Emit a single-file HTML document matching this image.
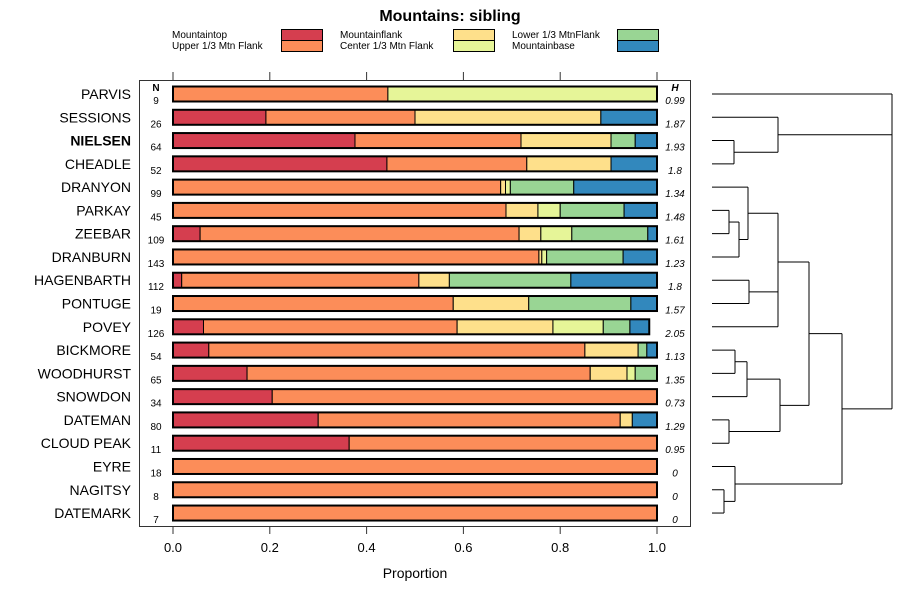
<!DOCTYPE html>
<html><head><meta charset="utf-8"><style>
body{margin:0;background:#fff;}
svg text{font-family:"Liberation Sans",sans-serif;}
</style></head><body>
<svg id="chart" width="900" height="600" xmlns="http://www.w3.org/2000/svg">
<text x="450" y="21" text-anchor="middle" font-size="16" font-weight="bold">Mountains: sibling</text>
<g id="legend" font-size="10"></g>
<rect x="139.5" y="80.5" width="551" height="446" fill="none" stroke="#333" stroke-width="1"/>
<text x="156" y="91" text-anchor="middle" font-size="10" font-weight="bold">N</text>
<text x="675" y="91" text-anchor="middle" font-size="10" font-weight="bold" font-style="italic">H</text>
<g id="bars"></g>
<g id="axes"></g>
<text x="415" y="578" text-anchor="middle" font-size="14">Proportion</text>
<g id="dendro" stroke="#000" stroke-width="1" fill="none"></g>
</svg>
<script>
const categories=["PARVIS","SESSIONS","NIELSEN","CHEADLE","DRANYON","PARKAY","ZEEBAR","DRANBURN","HAGENBARTH","PONTUGE","POVEY","BICKMORE","WOODHURST","SNOWDON","DATEMAN","CLOUD PEAK","EYRE","NAGITSY","DATEMARK"];
const nValues=[9,26,64,52,99,45,109,143,112,19,126,54,65,34,80,11,18,8,7];
const hValues=["0.99","1.87","1.93","1.8","1.34","1.48","1.61","1.23","1.8","1.57","2.05","1.13","1.35","0.73","1.29","0.95","0","0","0"];
const seriesNames=["Mountaintop","Upper 1/3 Mtn Flank","Mountainflank","Center 1/3 Mtn Flank","Lower 1/3 MtnFlank","Mountainbase"];
const seriesColors=["#D53E4F","#FC8D59","#FEE08B","#E6F598","#99D594","#3288BD"];
const mountaintop=[0,0.192,0.376,0.442,0,0,0.056,0,0.018,0,0.063,0.074,0.153,0.205,0.3,0.364,0,0,0];
const upperFlank=[0.444,0.308,0.343,0.289,0.677,0.688,0.659,0.756,0.49,0.579,0.524,0.777,0.709,0.795,0.624,0.636,1,1,1];
const mountainflank=[0,0.384,0.186,0.174,0.01,0.066,0.045,0.006,0.063,0.156,0.198,0.11,0.076,0,0.025,0,0,0,0];
const centerFlank=[0.556,0,0,0,0.01,0.046,0.064,0.01,0,0,0.104,0,0.017,0,0,0,0,0,0];
const lowerFlank=[0,0,0.05,0,0.131,0.132,0.157,0.158,0.251,0.211,0.055,0.018,0.045,0,0,0,0,0,0];
const mountainbase=[0,0.116,0.045,0.095,0.172,0.068,0.019,0.07,0.178,0.054,0.04,0.021,0,0,0.051,0,0,0,0];
const xTicks=[0,0.2,0.4,0.6,0.8,1.0];
const xTickLabels=["0.0","0.2","0.4","0.6","0.8","1.0"];

const NS="http://www.w3.org/2000/svg";
function mk(tag,attrs,parent){const e=document.createElementNS(NS,tag);for(const k in attrs)e.setAttribute(k,attrs[k]);parent.appendChild(e);return e;}
const xScale=v=>173+v*484;
const yScale=i=>94+i*23.28;
const series=[mountaintop,upperFlank,mountainflank,centerFlank,lowerFlank,mountainbase];

// legend
const lg=document.getElementById('legend');
const legX=[172,340,512],swX=[281,453,617];
seriesNames.forEach((n,i)=>{
  const c=Math.floor(i/2),r=i%2;
  const t=mk('text',{x:legX[c],y:38+r*11},lg);t.textContent=n;
  
  
  const s=mk('rect',{x:swX[c]+0.5,y:29.5+r*11,width:41,height:11,fill:seriesColors[i],stroke:'#000','stroke-width':1},lg);
  
  
});

// bars
const bg=document.getElementById('bars');
categories.forEach((cat,i)=>{
  const yc=yScale(i);
  const lab=mk('text',{x:131,y:yc+5,'text-anchor':'end','font-size':14,'font-weight':cat==="NIELSEN"?'bold':'normal'},bg);
  lab.textContent=cat;
  
  
  const nt=mk('text',{x:156,y:yc+(i===0?10:10),'text-anchor':'middle','font-size':10},bg);
  nt.textContent=nValues[i];
  
  
  const ht=mk('text',{x:675,y:yc+10,'text-anchor':'middle','font-size':10,'font-style':'italic'},bg);
  ht.textContent=hValues[i];
  
  
  let cum=0;
  series.forEach((s,k)=>{
    const v=s[i];if(v<=0)return;
    const r=mk('rect',{x:xScale(cum),y:yc-7.5,width:xScale(cum+v)-xScale(cum),height:15,fill:seriesColors[k],stroke:'#000','stroke-width':1},bg);
    
    
    cum+=v;
  });
  const o=mk('rect',{x:xScale(0),y:yc-7.5,width:xScale(cum)-xScale(0),height:15,fill:'none',stroke:'#000','stroke-width':2},bg);
  
  
});

// axes
const ax=document.getElementById('axes');
xTicks.forEach((v,i)=>{
  const x=xScale(v);
  mk('line',{x1:x,x2:x,y1:72,y2:80,stroke:'#333'},ax);
  mk('line',{x1:x,x2:x,y1:527,y2:534,stroke:'#333'},ax);
  const t=mk('text',{x:x,y:552,'text-anchor':'middle','font-size':13},ax);
  t.textContent=xTickLabels[i];
  
  
});

// dendrogram
const dg=document.getElementById('dendro');
const L=712;
const Y=i=>yScale(i);
function seg(x1,y1,x2,y2){mk('path',{d:`M${x1} ${y1}L${x2} ${y2}`},dg);}
function join(x,a,b){seg(a[0],a[1],x,a[1]);seg(b[0],b[1],x,b[1]);seg(x,a[1],x,b[1]);return [x,(a[1]+b[1])/2];}
const leaf=i=>[L,Y(i)];
const n23=join(734,leaf(2),leaf(3));
const n123=join(778,leaf(1),n23);
const n56=join(729,leaf(5),leaf(6));
const n567=join(739,n56,leaf(7));
const n4=join(748,leaf(4),n567);
const n89=join(749,leaf(8),leaf(9));
// multi join at 778
seg(n4[0],n4[1],778,n4[1]);seg(n89[0],n89[1],778,n89[1]);seg(L,Y(10),778,Y(10));seg(778,n4[1],778,Y(10));
const nA=[778,262];
const n1112=join(735,leaf(11),leaf(12));
const n13=join(747,n1112,leaf(13));
const n1415=join(729,leaf(14),leaf(15));
const nB=join(780,n13,n1415);
const nAB=join(809,nA,nB);
const n1718=join(724,leaf(17),leaf(18));
const n16=join(735,leaf(16),n1718);
const nC=join(842,nAB,n16);
seg(L,Y(0),892,Y(0));seg(n123[0],n123[1],892,n123[1]);seg(nC[0],nC[1],892,nC[1]);seg(892,Y(0),892,nC[1]);
</script>
</body></html>
